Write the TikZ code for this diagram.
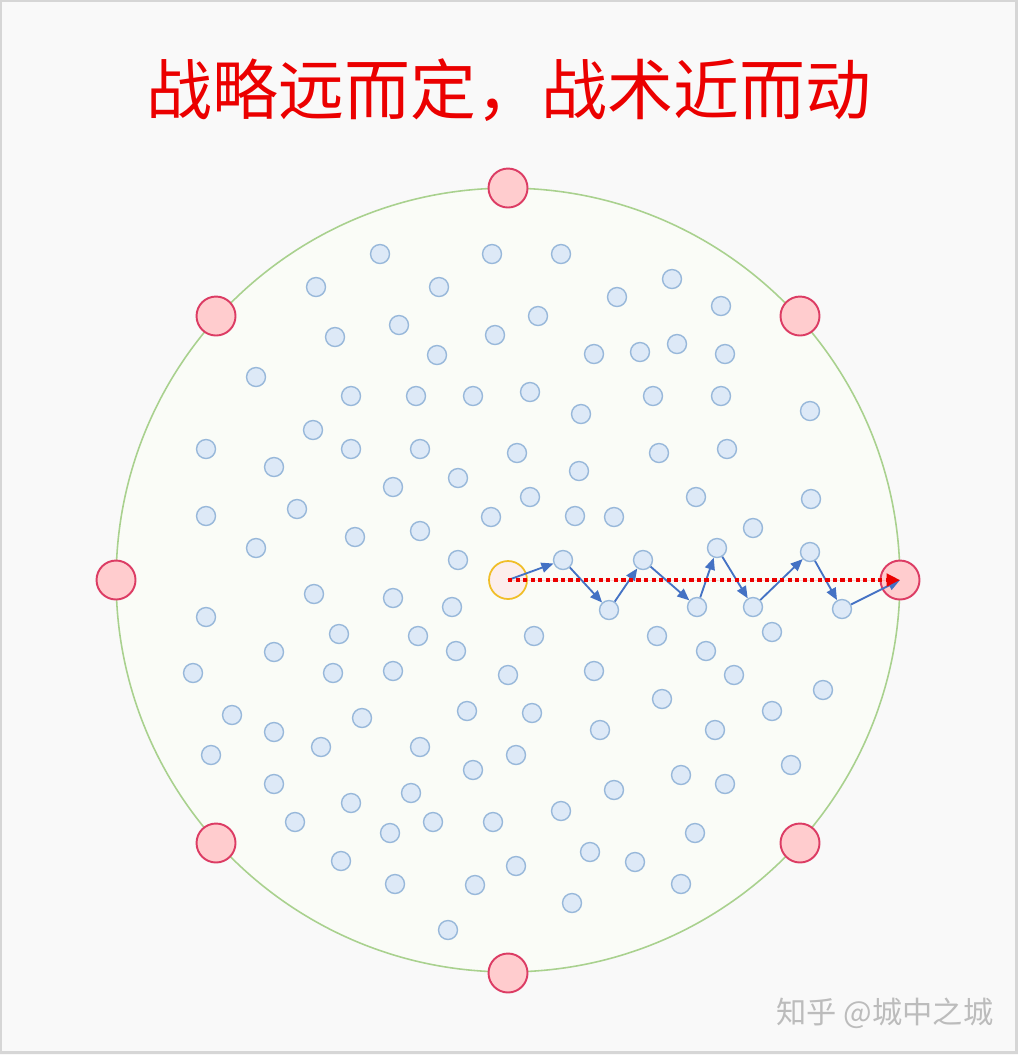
\documentclass[tikz,border=0pt]{standalone}
\usepackage{fontspec}
\newfontfamily\cjk{Noto Sans CJK SC}
\usetikzlibrary{arrows.meta}

\definecolor{pagebg}{RGB}{249,249,249}
\definecolor{framegray}{RGB}{214,214,214}
\definecolor{fieldline}{RGB}{169,209,142}
\definecolor{fieldfill}{RGB}{250,252,247}
\definecolor{dotline}{RGB}{152,184,218}
\definecolor{dotfill}{RGB}{221,233,247}
\definecolor{goalline}{RGB}{220,60,100}
\definecolor{goalfill}{RGB}{255,204,206}
\definecolor{startline}{RGB}{240,190,40}
\definecolor{startfill}{RGB}{252,238,236}
\definecolor{movecol}{RGB}{68,114,196}
\definecolor{titlered}{RGB}{235,0,0}
\definecolor{markgray}{RGB}{188,188,188}

\begin{document}
\begin{tikzpicture}[
    x=0.02cm, y=-0.02cm,
    fieldcircle/.style={circle, draw=fieldline, fill=fieldfill, line width=0.9pt, minimum size=15.68cm, inner sep=0pt},
    dot/.style={circle, draw=dotline, fill=dotfill, line width=0.8pt, minimum size=0.38cm, inner sep=0pt},
    goalpt/.style={circle, draw=goalline, fill=goalfill, line width=1.1pt, minimum size=0.78cm, inner sep=0pt},
    startpt/.style={circle, draw=startline, fill=startfill, line width=1pt, minimum size=0.76cm, inner sep=0pt},
    move/.style={-{Triangle[length=2.4mm, width=2mm]}, draw=movecol, fill=movecol, line width=1.05pt},
    plan/.style={-{Triangle[length=2.7mm, width=2.5mm]}, draw=titlered, fill=titlered, line width=2.5pt, dash pattern=on 2.4pt off 1.9pt}
]
    % Hintergrund
    \fill[pagebg] (0,0) rectangle (1018,1055);
    \draw[framegray, line width=1.4pt] (1.2,1.2) rectangle (1016.3,1052.5);

    % Titel
    \node[font=\cjk\fontsize{37.5}{40}\selectfont, text=titlered, inner sep=0pt] (title) at (509,90) {战略远而定，战术近而动};

    % Feld
    \node[fieldcircle] (field) at (508,580) {};

    % Punkte
    \foreach \px/\py [count=\i] in {
        380/254, 492/254, 561/254, 316/287, 439/287, 672/279, 617/297, 721/306,
        335/337, 399/325, 495/335, 538/316, 437/355, 594/354, 640/352, 677/344, 725/354,
        256/377, 351/396, 416/396, 473/396, 530/392, 653/396, 721/396, 581/414, 810/411,
        313/430, 206/449, 351/449, 420/449, 517/453, 659/453, 727/449,
        274/467, 458/478, 579/471, 393/487, 530/497, 696/497, 811/499,
        206/516, 297/509, 491/517, 575/516, 614/517, 420/531, 355/537, 753/528,
        256/548, 458/560, 314/594, 393/598, 452/607, 206/617,
        339/634, 418/636, 534/636, 657/636, 772/632, 274/652, 456/651, 706/651,
        193/673, 333/673, 393/671, 508/675, 594/671, 734/675, 823/690, 662/699,
        232/715, 362/718, 467/711, 532/713, 772/711, 274/732, 600/730, 715/730,
        211/755, 321/747, 420/747, 516/755, 473/770, 681/775, 791/765,
        274/784, 614/790, 725/784, 351/803, 411/793,
        295/822, 433/822, 493/822, 561/811, 390/833, 695/833,
        341/861, 516/866, 590/852, 635/862, 395/884, 475/885, 681/884,
        572/903, 448/930}
        \node[dot] (d\i) at (\px,\py) {};

    % Weg
    \node[dot] (p1) at (563,560) {};
    \node[dot] (p2) at (609,610) {};
    \node[dot] (p3) at (643,560) {};
    \node[dot] (p4) at (697,607) {};
    \node[dot] (p5) at (717,548) {};
    \node[dot] (p6) at (753,607) {};
    \node[dot] (p7) at (810,552) {};
    \node[dot] (p8) at (842,609) {};

    % Ziele am Rand
    \node[goalpt] (gN) at (508,188) {};
    \node[goalpt] (gNW) at (216,316) {};
    \node[goalpt] (gNE) at (800,316) {};
    \node[goalpt] (gW) at (116,580) {};
    \node[goalpt] (goal) at (900,580) {};
    \node[goalpt] (gSW) at (216,843) {};
    \node[goalpt] (gSE) at (800,843) {};
    \node[goalpt] (gS) at (508,973) {};

    % Start
    \node[startpt] (start) at (508,580) {};

    % Pfeile
    \draw[move] (start.center) -- (p1);
    \draw[move] (p1) -- (p2);
    \draw[move] (p2) -- (p3);
    \draw[move] (p3) -- (p4);
    \draw[move] (p4) -- (p5);
    \draw[move] (p5) -- (p6);
    \draw[move] (p6) -- (p7);
    \draw[move] (p7) -- (p8);
    \draw[move] (p8) -- (goal.center);
    \draw[plan] (start.center) -- (goal.center);

    % Wasserzeichen
    \node[font=\cjk\fontsize{17.2}{19}\selectfont, text=markgray, inner sep=0pt] (mark) at (885,1013) {知乎 @城中之城};
\end{tikzpicture}
\end{document}
